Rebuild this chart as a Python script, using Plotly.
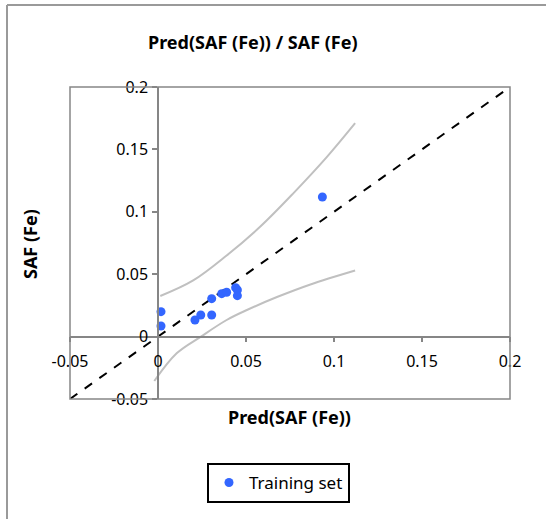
import plotly.graph_objects as go

# Training set points
pred_x = [0.0017, 0.0017, 0.021, 0.0243, 0.0305, 0.0305, 0.0362, 0.039, 0.0441, 0.0451, 0.0451, 0.0934]
obs_y = [0.020, 0.0085, 0.0133, 0.0173, 0.0173, 0.0304, 0.0344, 0.0355, 0.0392, 0.0373, 0.0328, 0.1119]

# Confidence bands
upper_x = [0.0013, 0.020, 0.039, 0.058, 0.077, 0.096, 0.112]
upper_y = [0.0325, 0.045, 0.065, 0.088, 0.115, 0.144, 0.171]
lower_x = [-0.0021, 0.0106, 0.0244, 0.039, 0.0505, 0.0676, 0.0866, 0.112]
lower_y = [-0.0356, -0.0134, 0.0, 0.0133, 0.0213, 0.0317, 0.0418, 0.053]

# Diagonal
diag = [-0.05, 0.2]

tick_vals = [-0.05, 0, 0.05, 0.1, 0.15, 0.2]
tick_text = ["-0.05", "0", "0.05", "0.1", "0.15", "0.2"]

FONT = "Noto Sans"
GRAY = "#868686"

fig = go.Figure()
fig.add_trace(go.Scatter(x=upper_x, y=upper_y, mode="lines", line=dict(color="#C0C0C0", width=2, shape="spline"),
                         showlegend=False, hoverinfo="skip"))
fig.add_trace(go.Scatter(x=lower_x, y=lower_y, mode="lines", line=dict(color="#C0C0C0", width=2, shape="spline"),
                         showlegend=False, hoverinfo="skip"))
fig.add_trace(go.Scatter(x=diag, y=diag, mode="lines", line=dict(color="black", width=2, dash="dash"),
                         showlegend=False, hoverinfo="skip"))
fig.add_trace(go.Scatter(x=pred_x, y=obs_y, mode="markers", name="Training set",
                         marker=dict(color="#3366FF", size=9)))

L, R, T, B = 70, 36, 87, 120
W, H = 546, 519
pw, ph = W - L - R, H - T - B

def px(x):
    return (x - L) / pw

def py(y):
    return (H - B - y) / ph

fig.update_layout(
    width=W, height=H,
    margin=dict(l=L, r=R, t=T, b=B),
    paper_bgcolor="white", plot_bgcolor="white",
    font=dict(family=FONT, size=16, color="black"),
    xaxis=dict(range=[-0.05, 0.2], anchor="free", position=0.2, showgrid=False, zeroline=False,
               showline=True, linecolor=GRAY, linewidth=1.5, ticks="outside", ticklen=5, tickcolor=GRAY,
               tickwidth=1.5, tickvals=tick_vals, ticktext=tick_text, tickfont=dict(size=16),
               ticklabelstandoff=5),
    yaxis=dict(range=[-0.05, 0.2], anchor="free", position=0.2, showgrid=False, zeroline=False,
               showline=True, linecolor=GRAY, linewidth=1.5, ticks="outside", ticklen=5, tickcolor=GRAY,
               tickwidth=1.5, tickvals=tick_vals, ticktext=tick_text, tickfont=dict(size=16),
               ticklabelstandoff=1),
    showlegend=True,
    legend=dict(x=px(278.5), y=py(463), xanchor="center", yanchor="top", bordercolor="black", borderwidth=2,
                font=dict(size=17), bgcolor="white"),
    shapes=[
        dict(type="rect", xref="paper", yref="paper", x0=0, y0=0, x1=1, y1=1, line=dict(color=GRAY, width=1.5)),
        dict(type="line", xref="paper", yref="paper", x0=px(7), x1=px(7), y0=py(5), y1=py(H + 5),
             line=dict(color="#9A9A9A", width=2)),
        dict(type="line", xref="paper", yref="paper", x0=px(7), x1=px(W + 5), y0=py(5), y1=py(5),
             line=dict(color="#9A9A9A", width=2)),
    ],
    annotations=[
        dict(text="<b>Pred(SAF (Fe)) / SAF (Fe)</b>", xref="paper", yref="paper", x=px(253), y=py(42),
             xanchor="center", yanchor="middle", showarrow=False, font=dict(size=18)),
        dict(text="<b>Pred(SAF (Fe))</b>", xref="paper", yref="paper", x=px(289), y=py(417),
             xanchor="center", yanchor="middle", showarrow=False, font=dict(size=18)),
        dict(text="<b>SAF (Fe)</b>", xref="paper", yref="paper", x=px(30), y=py(244), textangle=-90,
             xanchor="center", yanchor="middle", showarrow=False, font=dict(size=18)),
    ],
)

fig.write_html("out.html")
